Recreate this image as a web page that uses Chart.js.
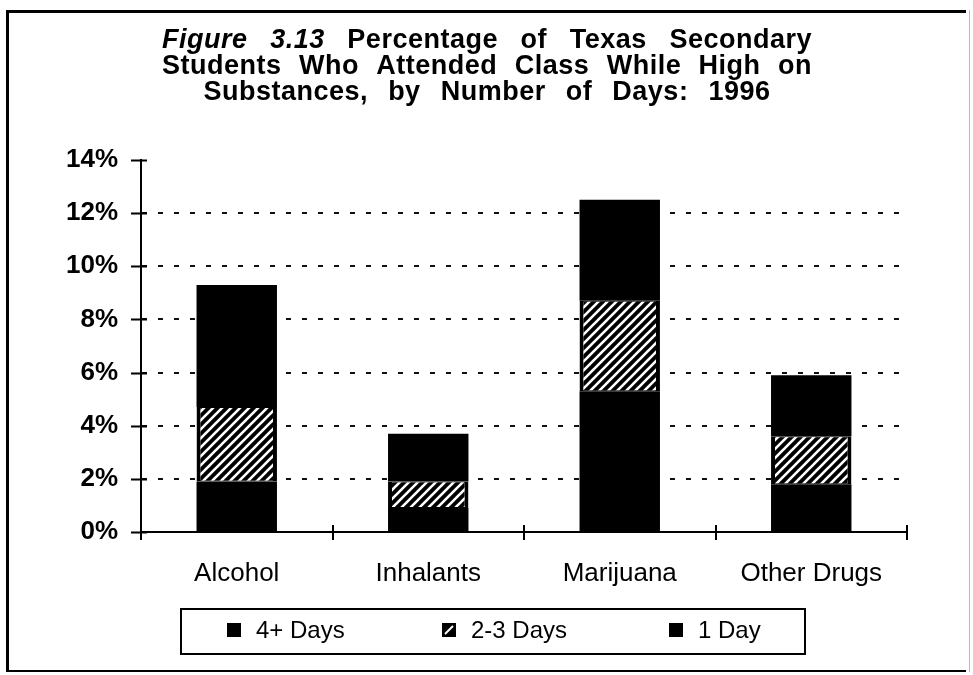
<!DOCTYPE html>
<html>
<head>
<meta charset="utf-8">
<script src="https://cdn.jsdelivr.net/npm/chart.js@4/dist/chart.umd.min.js"></script>
<style>
  body { margin: 0; background: #fff; }
  canvas { display: block; }
</style>
</head>
<body>
<canvas id="chartCanvas" width="973" height="675"></canvas>
<script>
// Data (percent of students)
const categories = ['Alcohol', 'Inhalants', 'Marijuana', 'Other Drugs'];
const seriesNames = ['4+ Days', '2-3 Days', '1 Day'];
const days4plus = [1.9, 0.9, 5.3, 1.8];
const days2to3 = [2.8, 1.0, 3.4, 1.8];
const day1 = [4.6, 1.8, 3.8, 2.3];
const yTickMax = 14;
const yTickStep = 2;

const titleLines = [
  [{ t: 'Figure', italic: true }, { t: '3.13', italic: true }, { t: 'Percentage' }, { t: 'of' }, { t: 'Texas' }, { t: 'Secondary' }],
  [{ t: 'Students' }, { t: 'Who' }, { t: 'Attended' }, { t: 'Class' }, { t: 'While' }, { t: 'High' }, { t: 'on' }],
  [{ t: 'Substances,' }, { t: 'by' }, { t: 'Number' }, { t: 'of' }, { t: 'Days:' }, { t: '1996' }]
];

const FONT = '"Liberation Sans", Arial, sans-serif';

// diagonal hatch for the 2-3 days band
function makeHatch() {
  const c = document.createElement('canvas');
  c.width = 9; c.height = 9;
  const g = c.getContext('2d');
  g.fillStyle = '#000';
  g.fillRect(0, 0, 9, 9);
  g.strokeStyle = '#fff';
  g.lineWidth = 2.6;
  g.beginPath();
  g.moveTo(-2, 11); g.lineTo(11, -2);
  g.moveTo(-7, 7); g.lineTo(7, -7);
  g.moveTo(2, 16); g.lineTo(16, 2);
  g.stroke();
  return g.createPattern(c, 'repeat');
}

// frame + title, drawn on the canvas
const framePlugin = {
  id: 'frame',
  beforeDraw(chart) {
    const ctx = chart.ctx;
    ctx.save();
    ctx.fillStyle = '#fff';
    ctx.fillRect(0, 0, chart.width, chart.height);
    ctx.fillStyle = '#000';
    ctx.fillRect(6, 10, 960, 3);   // top
    ctx.fillRect(6, 10, 3, 662);   // left
    ctx.fillRect(6, 670, 960, 2);  // bottom
    ctx.fillStyle = '#bbb';
    ctx.fillRect(969, 10, 1, 662); // right (faint)

    // title words spread to the original line widths
    const widths = [650, 650, 567];
    const baselines = [48, 74, 100];
    const cx = 487;
    ctx.fillStyle = '#000';
    ctx.textBaseline = 'alphabetic';
    ctx.letterSpacing = '0.5px';
    titleLines.forEach((words, i) => {
      const fonts = words.map(w => (w.italic ? 'italic ' : '') + 'bold 27px ' + FONT);
      let sum = 0;
      const ws = words.map((w, k) => { ctx.font = fonts[k]; const m = ctx.measureText(w.t).width; sum += m; return m; });
      const gap = (widths[i] - sum) / (words.length - 1);
      let x = cx - widths[i] / 2;
      words.forEach((w, k) => {
        ctx.font = fonts[k];
        ctx.fillText(w.t, x, baselines[i]);
        x += ws[k] + gap;
      });
    });
    ctx.restore();
  }
};

// crossing tick marks on both axes + custom boxed legend
const axisPlugin = {
  id: 'axisExtras',
  afterDraw(chart) {
    const ctx = chart.ctx;
    const area = chart.chartArea;
    const y = chart.scales.y;
    ctx.save();
    ctx.strokeStyle = '#000';
    ctx.lineWidth = 2;
    ctx.beginPath();
    y.ticks.forEach(t => {
      const py = Math.round(y.getPixelForValue(t.value)) + 0.5;
      ctx.moveTo(area.left - 10, py);
      ctx.lineTo(area.left + 6, py);
    });
    const n = categories.length;
    for (let i = 0; i <= n; i++) {
      const px = Math.round(area.left + i * (area.right - area.left) / n);
      ctx.moveTo(px, area.bottom - 7);
      ctx.lineTo(px, area.bottom + 8);
    }
    ctx.stroke();

    // legend box
    ctx.lineWidth = 2;
    ctx.strokeRect(181, 609, 624, 45);
    const itemX = [227, 442, 669];
    const ds = chart.data.datasets;
    ctx.font = '24px ' + FONT;
    ctx.textBaseline = 'middle';
    ds.forEach((d, i) => {
      const mx = itemX[i], my = 623;
      ctx.fillStyle = '#000';
      ctx.fillRect(mx, my, 14, 14);
      if (i === 1) {
        ctx.strokeStyle = '#fff';
        ctx.lineWidth = 2;
        ctx.beginPath();
        ctx.moveTo(mx + 3, my + 11);
        ctx.lineTo(mx + 11, my + 3);
        ctx.stroke();
      }
      ctx.fillStyle = '#000';
      ctx.fillText(d.label, mx + 29, 631);
    });
    ctx.restore();
  }
};

const hatch = makeHatch();
const ctx = document.getElementById('chartCanvas').getContext('2d');
const chart = new Chart(ctx, {
  type: 'bar',
  data: {
    labels: categories,
    datasets: [
      { label: seriesNames[0], data: days4plus, backgroundColor: '#000', borderWidth: 0 },
      {
        label: seriesNames[1], data: days2to3, backgroundColor: hatch,
        borderColor: '#000', borderWidth: { left: 4, right: 4, top: 1, bottom: 1 }, borderSkipped: false
      },
      { label: seriesNames[2], data: day1, backgroundColor: '#000', borderWidth: 0 }
    ]
  },
  options: {
    responsive: false,
    animation: false,
    devicePixelRatio: 1,
    layout: { padding: { left: 0, top: 160, right: 66, bottom: 83 } },
    datasets: { bar: { categoryPercentage: 1, barPercentage: 0.42 } },
    plugins: { legend: { display: false }, title: { display: false }, tooltip: { enabled: false } },
    scales: {
      x: {
        stacked: true,
        grid: { display: false, drawTicks: false },
        border: { display: true, color: '#000', width: 2 },
        ticks: { color: '#000', font: { family: FONT, size: 26 }, padding: 26, maxRotation: 0 },
        afterFit(scale) { scale.height = 60; }
      },
      y: {
        stacked: true,
        min: 0,
        max: yTickMax,
        grid: {
          drawTicks: false,
          color: c => (c.tick && (c.tick.value === 0 || c.tick.value === yTickMax)) ? 'rgba(0,0,0,0)' : '#111',
          lineWidth: 2
        },
        // in v4 border.dash styles the grid lines
        border: { display: true, color: '#000', width: 2, dash: [5, 11] },
        ticks: {
          stepSize: yTickStep,
          color: '#000',
          padding: 23,
          font: { family: FONT, size: 26, weight: 'bold' },
          callback: v => v + '%'
        },
        afterFit(scale) { scale.width = 141; }
      }
    }
  },
  plugins: [framePlugin, axisPlugin]
});
</script>
</body>
</html>
